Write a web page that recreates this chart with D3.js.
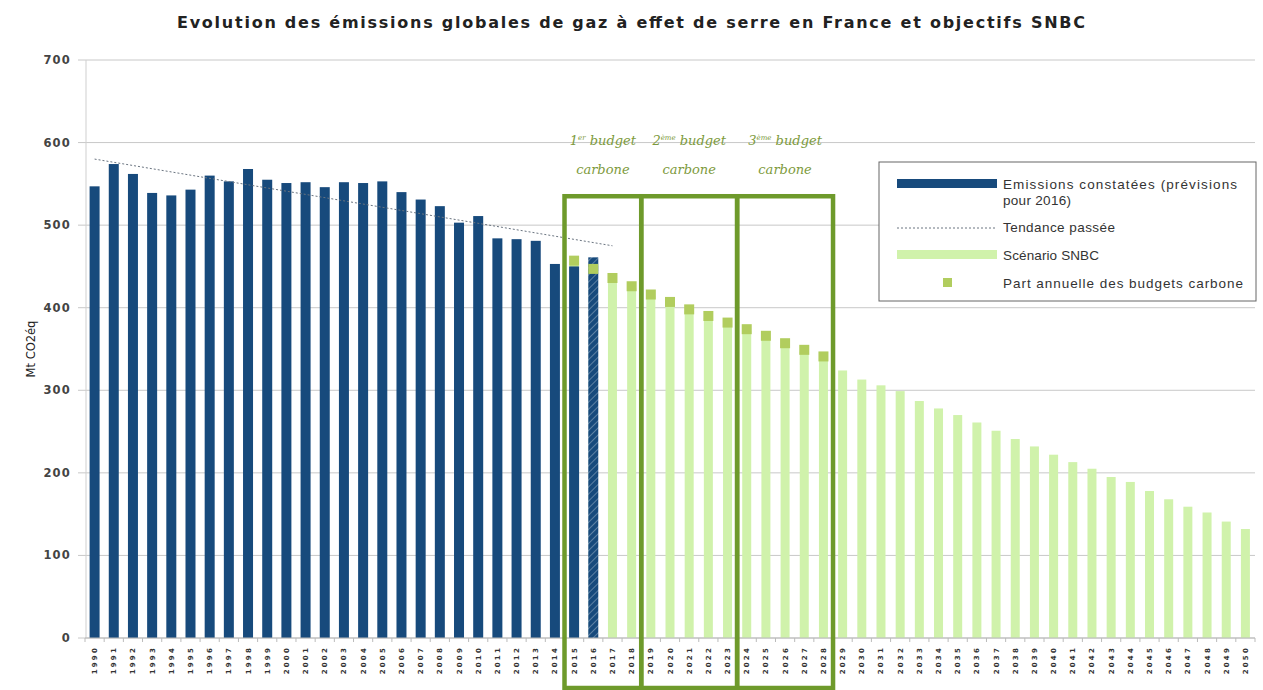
<!DOCTYPE html>
<html>
<head>
<meta charset="utf-8">
<script src="https://cdn.jsdelivr.net/npm/d3@7"></script>
<style>
  body { margin: 0; background: #fff; }
  #chart { width: 1263px; height: 690px; }
</style>
</head>
<body>
<div id="chart"></div>
<script>
/*
*    Evolution des émissions GES France + SNBC
*/

// catégories (années)
const years = d3.range(1990, 2051);

// émissions constatées 1990-2016 (2016 = prévision)
const emissionYears = d3.range(1990, 2017);
const emissions = [547, 574, 562, 539, 536, 543, 560, 553, 568, 555,
                   551, 552, 546, 552, 551, 553, 540, 531, 523, 503,
                   511, 484, 483, 481, 453, 450, 461];

// scénario SNBC 2015-2050
const snbcYears = d3.range(2015, 2051);
const snbc = [455, 445, 434, 424, 414, 405, 396, 388, 380, 372,
              364, 355, 347, 339, 324, 313, 306, 299, 287, 278,
              270, 261, 251, 241, 232, 222, 213, 205, 195, 189,
              178, 168, 159, 152, 141, 132];

// part annuelle des budgets carbone 2015-2028
const budgetYears = d3.range(2015, 2029);
const budgetShares = [457, 447, 436, 426, 416, 407, 398, 390, 382, 374, 366, 357, 349, 341];

// tendance passée (début / fin)
const trendYears = [1990, 2017];
const trendValues = [580, 475];

// périodes des budgets carbone
const budgetNames = ["1", "2", "3"];
const budgetSups = ["er", "ème", "ème"];
const budgetStart = [2015, 2019, 2024];
const budgetEnd = [2018, 2023, 2028];
const budgetBoxTop = 535;

const yTicks = [0, 100, 200, 300, 400, 500, 600, 700];

const width = 1263;
const height = 690;
const margin = { left: 85, right: 8, top: 60, bottom: 52 };

const svg = d3.select("#chart")
	.append("svg")
	.attr("width", width)
	.attr("height", height)
	.style("font-family", "'DejaVu Sans', sans-serif");

const x = d3.scaleBand()
	.domain(years)
	.range([margin.left, width - margin.right])
	.padding(0);

const y = d3.scaleLinear()
	.domain([0, 700])
	.range([height - margin.bottom, margin.top]);

const bw = x.bandwidth();
const cx = yr => x(yr) + bw / 2;

// hachures pour 2016
const defs = svg.append("defs");
const pat = defs.append("pattern")
	.attr("id", "hatch")
	.attr("patternUnits", "userSpaceOnUse")
	.attr("width", 5)
	.attr("height", 5)
	.attr("patternTransform", "rotate(45)");
pat.append("rect").attr("width", 5).attr("height", 5).attr("fill", "#174a7c");
pat.append("line").attr("x1", 0).attr("y1", 0).attr("x2", 0).attr("y2", 5)
	.attr("stroke", "#6f8fae").attr("stroke-width", 1.6);

// titre
svg.append("text")
	.attr("x", 631)
	.attr("y", 28)
	.attr("text-anchor", "middle")
	.attr("textLength", 908)
	.attr("lengthAdjust", "spacing")
	.style("font-size", "16px")
	.style("font-weight", "bold")
	.style("fill", "#222")
	.text("Evolution des émissions globales de gaz à effet de serre en France et objectifs SNBC");

// grille
svg.append("g")
	.selectAll("line")
	.data(yTicks)
	.enter()
	.append("line")
	.attr("x1", margin.left - 7)
	.attr("x2", width - margin.right)
	.attr("y1", d => y(d))
	.attr("y2", d => y(d))
	.attr("stroke", "#c8c8c8")
	.attr("stroke-width", 1);

svg.append("line")
	.attr("x1", margin.left + 1).attr("x2", margin.left + 1)
	.attr("y1", y(700)).attr("y2", y(0))
	.attr("stroke", "#cfcfcf");

// axe Y labels
svg.append("g")
	.selectAll("text")
	.data(yTicks)
	.enter()
	.append("text")
	.attr("x", 71)
	.attr("y", d => y(d) + 4)
	.attr("text-anchor", "end")
	.style("font-size", "11.5px")
	.style("font-weight", "bold")
	.style("letter-spacing", "1.2px")
	.style("fill", "#444")
	.text(d => d);

svg.append("text")
	.attr("transform", `translate(35, ${y(350)}) rotate(-90)`)
	.attr("text-anchor", "middle")
	.style("font-size", "11.5px")
	.style("fill", "#222")
	.text("Mt CO2éq");

// barres SNBC
svg.append("g")
	.selectAll("rect")
	.data(snbcYears.map((yr, i) => ({ yr, v: snbc[i] })))
	.enter()
	.append("rect")
	.attr("x", d => cx(d.yr) - 4.5)
	.attr("width", 9)
	.attr("y", d => y(d.v))
	.attr("height", d => y(0) - y(d.v))
	.attr("fill", "#d0f2ab");

// barres émissions
svg.append("g")
	.selectAll("rect")
	.data(emissionYears.map((yr, i) => ({ yr, v: emissions[i] })))
	.enter()
	.append("rect")
	.attr("x", d => cx(d.yr) - 5)
	.attr("width", 10)
	.attr("y", d => y(d.v))
	.attr("height", d => y(0) - y(d.v))
	.attr("fill", d => d.yr === 2016 ? "url(#hatch)" : "#174a7c");

// tendance passée
svg.append("line")
	.attr("x1", cx(trendYears[0]))
	.attr("x2", cx(trendYears[1]))
	.attr("y1", y(trendValues[0]))
	.attr("y2", y(trendValues[1]))
	.attr("stroke", "#6a7480")
	.attr("stroke-width", 1)
	.attr("stroke-dasharray", "2,2");

// part annuelle des budgets
svg.append("g")
	.selectAll("rect")
	.data(budgetYears.map((yr, i) => ({ yr, v: budgetShares[i] })))
	.enter()
	.append("rect")
	.attr("x", d => cx(d.yr) - 5)
	.attr("y", d => y(d.v) - 5)
	.attr("width", 10)
	.attr("height", 10)
	.attr("fill", "#b1cd5e");

// axe X
const xAxis = svg.append("g")
	.attr("transform", `translate(0, ${y(0)})`);
xAxis.append("line")
	.attr("x1", margin.left).attr("x2", width - margin.right)
	.attr("stroke", "#bbb");
xAxis.selectAll(".tk")
	.data(years.concat([2051]))
	.enter()
	.append("line")
	.attr("x1", d => d === 2051 ? width - margin.right : x(d))
	.attr("x2", d => d === 2051 ? width - margin.right : x(d))
	.attr("y1", 0).attr("y2", 4)
	.attr("stroke", "#bbb");
xAxis.selectAll("text")
	.data(years)
	.enter()
	.append("text")
	.attr("transform", d => `translate(${cx(d) + 2.5}, 8) rotate(-90)`)
	.attr("text-anchor", "end")
	.style("font-size", "7px")
	.style("font-weight", "bold")
	.style("letter-spacing", "2.2px")
	.style("fill", "#333")
	.text(d => d);

// cadres budgets carbone
const boxes = svg.append("g");
budgetNames.forEach((n, i) => {
	const x0 = x(budgetStart[i]);
	const x1 = x(budgetEnd[i]) + bw;
	boxes.append("rect")
		.attr("x", x0)
		.attr("y", y(budgetBoxTop))
		.attr("width", x1 - x0)
		.attr("height", 688 - y(budgetBoxTop))
		.attr("fill", "none")
		.attr("stroke", "#6e9a2b")
		.attr("stroke-width", 4.5);

	const label = svg.append("text")
		.attr("x", (x0 + x1) / 2)
		.attr("y", 145)
		.attr("text-anchor", "middle")
		.style("font-family", "'DejaVu Serif', serif")
		.style("font-style", "italic")
		.style("font-size", "13px")
		.style("fill", "#7d9a3c");
	label.append("tspan").text(n);
	label.append("tspan").attr("dy", -5).style("font-size", "7px").text(budgetSups[i]);
	label.append("tspan").attr("dy", 5).text(" budget");

	svg.append("text")
		.attr("x", (x0 + x1) / 2)
		.attr("y", 174)
		.attr("text-anchor", "middle")
		.style("font-family", "'DejaVu Serif', serif")
		.style("font-style", "italic")
		.style("font-size", "13px")
		.style("fill", "#7d9a3c")
		.text("carbone");
});

// ===== LÉGENDE =====
const legend = svg.append("g").attr("transform", "translate(879, 162)");
legend.append("rect")
	.attr("width", 377)
	.attr("height", 139)
	.attr("fill", "#fff")
	.attr("stroke", "#666")
	.attr("stroke-width", 1);

const lt = (t, ty, len) => legend.append("text")
	.attr("x", 124)
	.attr("y", ty)
	.attr("textLength", len)
	.attr("lengthAdjust", "spacing")
	.style("font-family", "'Liberation Sans', Arial, sans-serif")
	.style("font-size", "13.5px")
	.style("fill", "#333")
	.text(t);

legend.append("rect").attr("x", 18).attr("y", 17).attr("width", 100).attr("height", 9).attr("fill", "#174a7c");
lt("Emissions constatées (prévisions", 27, 234);
lt("pour 2016)", 43, 68);

legend.append("line").attr("x1", 18).attr("x2", 118).attr("y1", 66).attr("y2", 66)
	.attr("stroke", "#6a7480").attr("stroke-dasharray", "2,2");
lt("Tendance passée", 70, 112);

legend.append("rect").attr("x", 18).attr("y", 88).attr("width", 100).attr("height", 9).attr("fill", "#d0f2ab");
lt("Scénario SNBC", 98, 96);

legend.append("rect").attr("x", 64).attr("y", 116).attr("width", 9).attr("height", 9).attr("fill", "#b1cd5e");
lt("Part annuelle des budgets carbone", 126, 240);
</script>
</body>
</html>
